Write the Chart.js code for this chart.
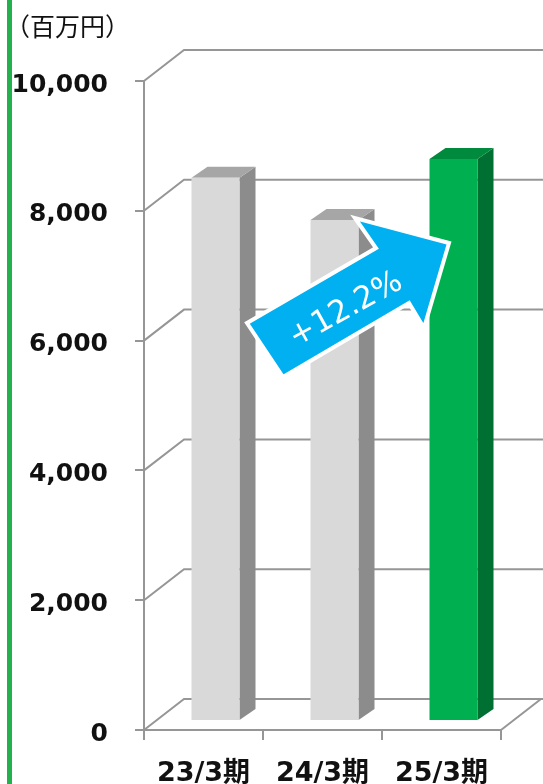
<!DOCTYPE html>
<html lang="ja">
<head>
<meta charset="utf-8">
<title>chart</title>
<script src="https://cdn.jsdelivr.net/npm/chart.js@4"></script>
<style>
html, body { margin: 0; padding: 0; background: #fff; overflow: hidden; }
canvas { display: block; }
</style>
</head>
<body>
<canvas id="bar-chart" width="543" height="784"></canvas>
<script>
var categories = ["23/3期", "24/3期", "25/3期"];
var sales = [8370, 7720, 8660];
var yTicks = [0, 2000, 4000, 6000, 8000, 10000];
var unitLabel = "（百万円）";
var changeLabel = "+12.2%";

var frontColors = ["#d9d9d9", "#d9d9d9", "#00b050"];
var sideColors = ["#8c8c8c", "#8c8c8c", "#006f32"];
var topColors = ["#a6a6a6", "#a6a6a6", "#008a3e"];

var gridColor = "#969696";
var fontFamily = '"DejaVu Sans", "Noto Sans CJK JP", sans-serif';

// depth of the back wall and of the bars
var wallX = 40, wallY = 31;
var barShiftX = 12, barShiftY = 9;
var barDepthX = 16, barDepthY = 11;

// back wall, floor and the green stripe at the left
var wallPlugin = {
    id: "wall",
    beforeDatasetsDraw: function(chart) {
        var ctx = chart.ctx;
        var x = chart.scales.x;
        var y = chart.scales.y;

        ctx.save();
        ctx.fillStyle = "#22b14c";
        ctx.fillRect(7, 0, 5, chart.height);

        ctx.strokeStyle = gridColor;
        ctx.lineWidth = 2;
        for (var i = 0; i < yTicks.length; i++) {
            var py = y.getPixelForValue(yTicks[i]);
            ctx.beginPath();
            ctx.moveTo(x.left, py);
            ctx.lineTo(x.left + wallX, py - wallY);
            ctx.lineTo(x.right + wallX + 2, py - wallY);
            ctx.stroke();
        }
        // floor right edge
        var base = y.getPixelForValue(0);
        ctx.beginPath();
        ctx.moveTo(x.right, base);
        ctx.lineTo(x.right + wallX, base - wallY);
        ctx.stroke();
        ctx.restore();

        // bars stand a little behind the front axis
        ctx.save();
        ctx.translate(barShiftX, -barShiftY);
    },
    beforeDatasetDraw: function(chart, args) {
        var ctx = chart.ctx;
        var bars = args.meta.data;
        for (var i = 0; i < bars.length; i++) {
            var left = bars[i].x - bars[i].width / 2;
            var right = bars[i].x + bars[i].width / 2;
            var top = bars[i].y;
            var bottom = bars[i].base;

            ctx.fillStyle = sideColors[i];
            ctx.beginPath();
            ctx.moveTo(right, top);
            ctx.lineTo(right + barDepthX, top - barDepthY);
            ctx.lineTo(right + barDepthX, bottom - barDepthY);
            ctx.lineTo(right, bottom);
            ctx.closePath();
            ctx.fill();

            ctx.fillStyle = topColors[i];
            ctx.beginPath();
            ctx.moveTo(left, top);
            ctx.lineTo(left + barDepthX, top - barDepthY);
            ctx.lineTo(right + barDepthX, top - barDepthY);
            ctx.lineTo(right, top);
            ctx.closePath();
            ctx.fill();
        }
    },
    afterDatasetsDraw: function(chart) {
        chart.ctx.restore();
    }
};

// unit text and the blue arrow
var notePlugin = {
    id: "note",
    afterDraw: function(chart) {
        var ctx = chart.ctx;
        ctx.save();
        ctx.fillStyle = "#111111";
        ctx.font = "25px " + fontFamily;
        ctx.textAlign = "left";
        ctx.textBaseline = "middle";
        ctx.fillText(unitLabel, 5, 29);

        ctx.beginPath();
        ctx.moveTo(247, 323);
        ctx.lineTo(376, 248);
        ctx.lineTo(355, 218);
        ctx.lineTo(449, 243);
        ctx.lineTo(424, 328);
        ctx.lineTo(409, 303);
        ctx.lineTo(283, 377);
        ctx.closePath();
        ctx.fillStyle = "#00b0f0";
        ctx.fill();
        ctx.strokeStyle = "#ffffff";
        ctx.lineWidth = 4;
        ctx.stroke();

        ctx.translate(346, 310);
        ctx.rotate(-29 * Math.PI / 180);
        ctx.fillStyle = "#ffffff";
        ctx.font = '31px "DejaVu Sans", sans-serif';
        ctx.textAlign = "center";
        ctx.fillText(changeLabel, 0, 0);
        ctx.restore();
    }
};

new Chart(document.getElementById("bar-chart"), {
    type: "bar",
    data: {
        labels: categories,
        datasets: [{
            data: sales,
            backgroundColor: frontColors,
            borderWidth: 0,
            barPercentage: 48 / 119,
            categoryPercentage: 1
        }]
    },
    options: {
        responsive: false,
        animation: false,
        layout: { padding: { left: 0, right: 42, top: 81, bottom: 0 } },
        plugins: {
            legend: { display: false },
            tooltip: { enabled: false },
            title: { display: false }
        },
        scales: {
            x: {
                afterFit: function(scale) { scale.height = 54; },
                border: { color: gridColor, width: 2 },
                grid: { drawOnChartArea: false, color: gridColor, lineWidth: 2, tickLength: 10 },
                ticks: {
                    color: "#111111",
                    maxRotation: 0,
                    padding: 18,
                    font: { family: fontFamily, size: 27, weight: "bold" }
                }
            },
            y: {
                min: 0,
                max: 10000,
                afterFit: function(scale) { scale.width = 144; },
                afterBuildTicks: function(scale) {
                    scale.ticks = yTicks.map(function(v) { return { value: v }; });
                },
                border: { color: gridColor, width: 2 },
                grid: { drawOnChartArea: false, color: gridColor, lineWidth: 2, tickLength: 9 },
                ticks: {
                    color: "#111111",
                    padding: 27,
                    labelOffset: 4,
                    font: { family: fontFamily, size: 25, weight: "bold" },
                    callback: function(v) { return v.toLocaleString("en-US"); }
                }
            }
        }
    },
    plugins: [wallPlugin, notePlugin]
});
</script>
</body>
</html>
